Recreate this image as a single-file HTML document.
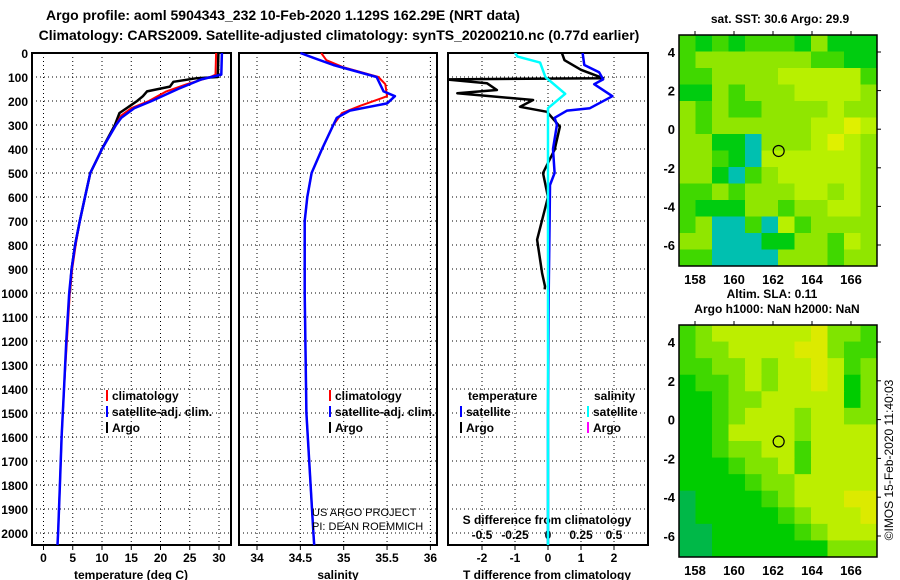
<!DOCTYPE html>
<html><head><meta charset="utf-8"><style>
html,body{margin:0;padding:0;background:#fff;}
svg{display:block;font-family:"Liberation Sans",Arial,sans-serif;}
.b{font-weight:bold;}
</style></head><body>
<svg id="c" width="900" height="580" viewBox="0 0 900 580" xmlns="http://www.w3.org/2000/svg">
<defs><clipPath id="cp3"><rect x="448" y="53" width="200" height="492"/></clipPath></defs>
<text x="283" y="20" text-anchor="middle" class="b" font-size="14">Argo profile: aoml 5904343_232 10-Feb-2020 1.129S 162.29E (NRT data)</text>
<text x="339" y="40" text-anchor="middle" class="b" font-size="14">Climatology: CARS2009. Satellite-adjusted climatology: synTS_20200210.nc (0.77d earlier)</text>
<g id="g"></g>
</svg>
<script>
// ---- data ----
const depthTicks=[0,100,200,300,400,500,600,700,800,900,1000,1100,1200,1300,1400,1500,1600,1700,1800,1900,2000];
const tempTicks=[0,5,10,15,20,25,30];
const salTicks=[34,34.5,35,35.5,36];
const salTickLabels=["34","34.5","35","35.5","36"];
const dTTicks=[-2,-1,0,1,2];
const dSTicks=[-0.5,-0.25,0,0.25,0.5];
const dSTickLabels=["-0.5","-0.25","0","0.25","0.5"];

const argoTDepth=[0,100,105,120,140,160,180,200,220,250,300,400,500,600,700,800,900,1000];
const argoT=[29.9,29.8,26.2,22.2,21.6,17.7,17,16,14.8,13,12.2,10,8,7.1,6.2,5.4,4.8,4.5];
const climTDepth=[0,90,100,130,160,200,230,260,300,400,500,600,700,800,900,1000,1200,1400,1600,1800,2000,2050];
const climT=[29.5,29.4,28.5,24.5,21,18,15,13.3,12.4,10,8,7.1,6.2,5.5,4.9,4.5,4.0,3.5,3.1,2.8,2.5,2.4];
const satTDepth=[0,90,110,150,200,230,270,300,400,500,600,700,800,900,1000,1200,1400,1600,1800,2000,2050];
const satT=[30.5,30.4,27,23,18.5,15.5,13.3,12.4,10,8,7.1,6.2,5.4,4.8,4.4,3.9,3.5,3.1,2.8,2.5,2.4];

const climSDepth=[0,30,60,100,130,180,220,250,300,400,500,600,700,1000,1500,2000,2050];
const climS=[34.74,34.8,35.0,35.4,35.48,35.5,35.19,34.98,34.88,34.75,34.63,34.58,34.55,34.55,34.57,34.65,34.66];
const satSDepth=[0,20,50,100,160,180,210,240,270,300,400,500,600,700,1000,1500,2000,2050];
const satS=[34.5,34.65,34.88,35.38,35.46,35.59,35.5,35.07,34.92,34.88,34.75,34.63,34.58,34.55,34.55,34.57,34.65,34.66];

const satDSDepth=[0,15,40,100,170,230,300,600,1000,1500,2000,2050];
const satDS=[-0.25,-0.23,-0.06,-0.02,0.13,0,0,0,0,0,0,0];
const satDTDepth=[0,50,80,110,130,180,230,240,270,300,400,500,550,700,1000,1500,2000,2050];
const satDT=[1.05,1.1,1.55,1.67,1.4,1.95,1.27,0.58,0.2,0.27,0.15,0.2,0.06,0.05,0.02,0,0,0];
const argoDTDepth=[0,30,70,105,110,126,154,168,196,224,245,307,403,500,600,778,917,972,985];
const argoDT=[0.42,0.5,1.0,1.67,-3.1,-1.85,-1.55,-2.75,-0.45,-0.85,-0.03,0.36,0.2,-0.15,0,-0.33,-0.18,-0.09,-0.1];

const lonTicks=[158,160,162,164,166];
const latTicks=[4,2,0,-2,-4,-6];
const sstGrid=["545455546444","566666665544","556666777775","446566677776","656556666766","656666667787","664436667876","665437777776","664356777776","556566677676","544466566776","563353756666","663334466576","553333666566"];
const slaGrid=["567777778665","566777788655","556676778756","455676778746","445667777746","445677767766","445777767777","445667757777","444566757777","444456677777","344445677788","344444567778","334444456777","334444444666"];
const argoLon=162.29, argoLat=-1.129;

// ---- scales ----
const yD=d=>53+d*0.24;
const xT=t=>43.5+t*5.85;
const xS=s=>257+(s-34)*86.7;
const xdT=v=>548+33*v;
const xdS=v=>548+132*v;
const mx=l=>695+(l-158)*19.5;
const my1=a=>52+(4-a)*19.3;
const my2=a=>342+(4-a)*19.4;

const NS="http://www.w3.org/2000/svg";
const G=document.getElementById('g');
function el(tag,attrs,parent){const e=document.createElementNS(NS,tag);for(const k in attrs)e.setAttribute(k,attrs[k]);(parent||G).appendChild(e);return e;}
function txt(x,y,s,size,anchor,parent){const t=el('text',{x:x,y:y,'font-size':size,'font-weight':'bold','text-anchor':anchor||'middle'},parent);t.textContent=s;return t;}

const panels=[{x0:32,x1:231,name:'temperature'},{x0:239,x1:437,name:'salinity'},{x0:448,x1:648,name:'tdiff'}];
const vgrid=[tempTicks.map(xT),salTicks.map(xS),dTTicks.map(xdT)];
panels.forEach((p,i)=>{
  const g=el('g',{});
  
  
  depthTicks.forEach(d=>{const l=el('line',{x1:p.x0,x2:p.x1,y1:yD(d),y2:yD(d),stroke:'#000','stroke-width':1,'stroke-dasharray':'1 3'},g);
    });
  vgrid[i].forEach(x=>{const l=el('line',{x1:x,x2:x,y1:53,y2:545,stroke:'#000','stroke-width':1,'stroke-dasharray':'1 3'},g);
    
    el('line',{x1:x,x2:x,y1:545,y2:550,stroke:'#000'},g);});
  const r=el('rect',{x:p.x0,y:53,width:p.x1-p.x0,height:492,fill:'none',stroke:'#000','stroke-width':2},g);
  
});
depthTicks.forEach(d=>{const t=txt(28,yD(d)+5,String(d),12,'end');
  });
tempTicks.forEach(v=>{const t=txt(xT(v),562,String(v),12);});
salTicks.forEach((v,i)=>{const t=txt(xS(v),562,salTickLabels[i],12);});
dTTicks.forEach(v=>{const t=txt(xdT(v),562,String(v),12);});
dSTicks.forEach((v,i)=>{const t=txt(xdS(v),539,dSTickLabels[i],12);});
let t;
t=txt(131,579,'temperature (deg C)',12);
t=txt(338,579,'salinity',12);
t=txt(547,579,'T difference from climatology',12);
t=txt(547,524,'S difference from climatology',12);

function line(depths,vals,xf,color,w,name,clip){
  const pts=depths.map((d,i)=>xf(vals[i]).toFixed(1)+','+yD(d).toFixed(1)).join(' ');
  const a={points:pts,fill:'none',stroke:color,'stroke-width':w,'stroke-linejoin':'round'};
  if(clip)a['clip-path']='url(#cp3)';
  const p=el('polyline',a);
  
  
}
line(argoTDepth,argoT,xT,'#000',2.5,'argo-temperature-line');
line(climTDepth,climT,xT,'#f00',2,'clim-temperature-line');
line(satTDepth,satT,xT,'#00f',2.5,'sat-temperature-line');
line(climSDepth,climS,xS,'#f00',2,'clim-salinity-line');
line(satSDepth,satS,xS,'#00f',2.5,'sat-salinity-line');
line(argoDTDepth,argoDT,xdT,'#000',2.5,'argo-tdiff-line',true);
line(satDTDepth,satDT,xdT,'#00f',2.5,'sat-tdiff-line',true);
line(satDSDepth,satDS,xdS,'#0ff',2.5,'sat-sdiff-line',true);

function legend(x,y,color,label,name){
  const g=el('g',{});
  
  
  el('line',{x1:x,x2:x,y1:y-10,y2:y+1,stroke:color,'stroke-width':2},g);
  if(label)txt(x+5,y,label,12,'start',g);
}
legend(107,400,'#f00','climatology','legend-climatology');
legend(107,416,'#00f','satellite-adj. clim.','legend-satellite-adj');
legend(107,432,'#000','Argo','legend-argo');
legend(330,400,'#f00','climatology','legend-sal-climatology');
legend(330,416,'#00f','satellite-adj. clim.','legend-sal-satellite-adj');
legend(330,432,'#000','Argo','legend-sal-argo');
t=txt(468,400,'temperature',12,'start');
t=txt(594,400,'salinity',12,'start');
legend(461,416,'#00f','satellite','legend-tdiff-satellite');
legend(461,432,'#000','Argo','legend-tdiff-argo');
legend(588,416,'#0ff','satellite','legend-sdiff-satellite');
legend(588,432,'#f0f','Argo','legend-sdiff-argo');
t=el('text',{x:312,y:516,'font-size':11});t.textContent='US ARGO PROJECT';
t=el('text',{x:312,y:530,'font-size':11});t.textContent='PI: DEAN ROEMMICH';

// ---- maps ----
const cm1={'1':'#0000a0','2':'#0080ff','3':'#00c0b0','4':'#00cc10','5':'#40d800','6':'#90e600','7':'#b8f000','8':'#e0f000','9':'#f0a000'};
const cm2={'3':'#00b848','4':'#00cc00','5':'#40d800','6':'#80e400','7':'#bcee00','8':'#dcea00'};
function map(grid,cmap,x0,y0,x1,y1,my,name){
  const g=el('g',{});
  
  
  const rows=grid.length,cols=grid[0].length,cw=(x1-x0)/cols,ch=(y1-y0)/rows;
  grid.forEach((row,r)=>{for(let c=0;c<cols;c++){
    const cell=el('rect',{x:(x0+c*cw).toFixed(2),y:(y0+r*ch).toFixed(2),width:(cw+0.5).toFixed(2),height:(ch+0.5).toFixed(2),fill:cmap[row[c]]},g);
    
    }});
  el('rect',{x:x0,y:y0,width:x1-x0,height:y1-y0,fill:'none',stroke:'#000','stroke-width':1.5},g);
  lonTicks.forEach(l=>{el('line',{x1:mx(l),x2:mx(l),y1:y0,y2:y0-4,stroke:'#000'},g);
    const tl=txt(mx(l),y1+18,String(l),13,'middle',g);});
  latTicks.forEach(a=>{el('line',{x1:x1,x2:x1+4,y1:my(a),y2:my(a),stroke:'#000'},g);
    const tl=txt(x0-4,my(a)+5,String(a),13,'end',g);});
  const c=el('circle',{cx:mx(argoLon),cy:my(argoLat),r:5.5,fill:'none',stroke:'#000','stroke-width':1.2},g);
  
}
map(sstGrid,cm1,679,35,877,266,my1,'sst-map');
map(slaGrid,cm2,679,325,877,557,my2,'sla-map');
t=txt(780,23,'sat. SST: 30.6 Argo: 29.9',12);
t=txt(772,298,'Altim. SLA: 0.11',12);
t=txt(777,313,'Argo h1000: NaN h2000: NaN',12);
t=el('text',{x:0,y:0,'font-size':12,'text-anchor':'middle',transform:'translate(893,460) rotate(-90)'});
t.textContent='©IMOS 15-Feb-2020 11:40:03';


</script>
</body></html>
